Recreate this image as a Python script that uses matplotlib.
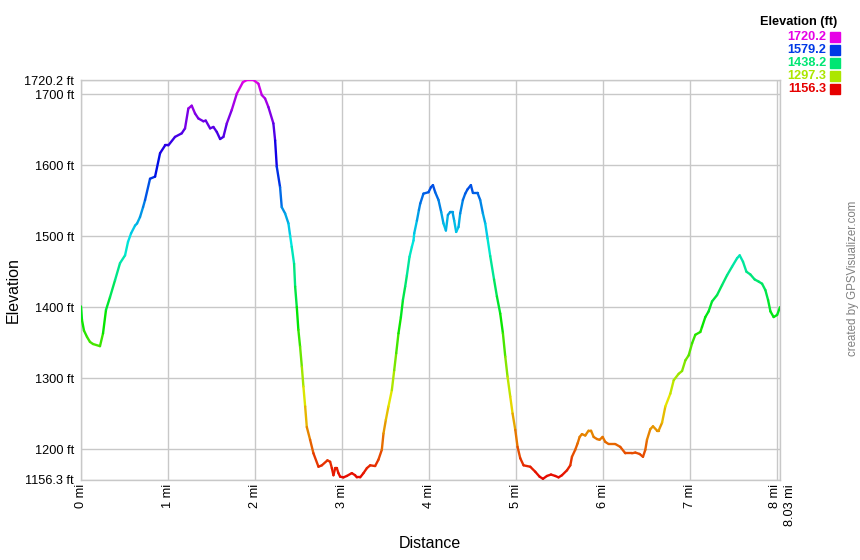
import numpy as np
import matplotlib
matplotlib.use("Agg")
import matplotlib.pyplot as plt
from matplotlib.collections import LineCollection
from matplotlib.colors import hsv_to_rgb
from matplotlib.patches import Rectangle
from matplotlib.transforms import ScaledTranslation

plt.rcParams['font.family'] = ['Liberation Sans', 'DejaVu Sans']

# track profile: distance (mi) and elevation (ft)
dist_mi = [0.00, 0.011, 0.034, 0.069, 0.103, 0.138, 0.218, 0.253, 0.287, 0.333,
           0.391, 0.448, 0.506, 0.540, 0.575, 0.621, 0.644, 0.678, 0.713, 0.736,
           0.793, 0.851, 0.908, 0.966, 1.003, 1.080, 1.157, 1.195, 1.233, 1.272,
           1.310, 1.348, 1.406, 1.433, 1.483, 1.521, 1.560, 1.598, 1.636, 1.675,
           1.732, 1.790, 1.859, 1.905, 1.980, 2.038, 2.077, 2.115, 2.153, 2.210,
           2.230, 2.249, 2.287, 2.306, 2.345, 2.383, 2.402, 2.421, 2.448, 2.460,
           2.479, 2.497, 2.517, 2.537, 2.555, 2.575, 2.594, 2.632, 2.670, 2.728,
           2.767, 2.831, 2.862, 2.882, 2.900, 2.920, 2.939, 2.957, 2.977, 3.015,
           3.054, 3.111, 3.149, 3.169, 3.207, 3.245, 3.284, 3.322, 3.379, 3.417,
           3.456, 3.475, 3.502, 3.532, 3.571, 3.598, 3.621, 3.647, 3.675, 3.698,
           3.724, 3.744, 3.774, 3.801, 3.820, 3.828, 3.859, 3.882, 3.897, 3.934,
           3.992, 4.020, 4.043, 4.069, 4.107, 4.138, 4.164, 4.192, 4.215, 4.241,
           4.268, 4.287, 4.310, 4.337, 4.356, 4.387, 4.414, 4.440, 4.479, 4.502,
           4.555, 4.586, 4.617, 4.644, 4.670, 4.701, 4.745, 4.778, 4.816, 4.847,
           4.874, 4.900, 4.931, 4.958, 4.989, 5.015, 5.046, 5.084, 5.161, 5.218,
           5.268, 5.307, 5.353, 5.399, 5.448, 5.486, 5.525, 5.583, 5.621, 5.640,
           5.678, 5.705, 5.728, 5.755, 5.793, 5.831, 5.859, 5.889, 5.928, 5.957,
           5.992, 6.023, 6.061, 6.138, 6.195, 6.253, 6.330, 6.368, 6.417, 6.456,
           6.483, 6.502, 6.540, 6.571, 6.617, 6.636, 6.675, 6.713, 6.770, 6.809,
           6.866, 6.905, 6.943, 6.981, 7.020, 7.057, 7.115, 7.134, 7.172, 7.210,
           7.249, 7.307, 7.364, 7.422, 7.479, 7.537, 7.567, 7.605, 7.644, 7.690,
           7.739, 7.785, 7.824, 7.862, 7.893, 7.920, 7.957, 7.997, 8.030]
elev_ft = [1401, 1382, 1367, 1358, 1351, 1348, 1345, 1363, 1396, 1414,
           1438, 1462, 1473, 1492, 1504, 1515, 1518, 1527, 1541, 1551,
           1581, 1584, 1617, 1628, 1628, 1640, 1645, 1652, 1680, 1684,
           1673, 1666, 1662, 1663, 1652, 1654, 1647, 1637, 1640, 1659,
           1678, 1701, 1717, 1720.2, 1720.2, 1715, 1699, 1694, 1682, 1659,
           1635, 1598, 1569, 1541, 1532, 1518, 1501, 1485, 1461, 1429,
           1400, 1368, 1344, 1316, 1288, 1260, 1231, 1213, 1194, 1175,
           1177, 1184, 1182, 1173, 1163, 1173, 1173, 1166, 1161, 1160,
           1162, 1166, 1163, 1160, 1160, 1166, 1173, 1177, 1176, 1185,
           1199, 1222, 1241, 1260, 1283, 1311, 1335, 1363, 1386, 1410,
           1429, 1445, 1471, 1485, 1494, 1504, 1522, 1537, 1546, 1560,
           1562, 1569, 1572, 1562, 1551, 1534, 1518, 1508, 1530, 1534,
           1534, 1522, 1506, 1513, 1532, 1551, 1560, 1566, 1572, 1561,
           1561, 1551, 1532, 1518, 1497, 1472, 1439, 1415, 1391, 1363,
           1330, 1302, 1274, 1250, 1227, 1203, 1187, 1177, 1175, 1168,
           1161, 1158, 1162, 1164, 1162, 1160, 1163, 1170, 1177, 1189,
           1199, 1208, 1217, 1221, 1219, 1226, 1226, 1217, 1214, 1213,
           1217, 1210, 1207, 1207, 1203, 1194, 1194, 1195, 1193, 1189,
           1199, 1213, 1228, 1232, 1226, 1226, 1237, 1260, 1278, 1297,
           1306, 1310, 1325, 1332, 1349, 1361, 1365, 1372, 1386, 1394,
           1408, 1417, 1431, 1445, 1457, 1469, 1473, 1464, 1450, 1446,
           1439, 1436, 1433, 1424, 1410, 1394, 1386, 1389, 1400]

elev_min = 1156.3
elev_max = 1720.2
total_mi = 8.03
legend_vals = [1720.2, 1579.2, 1438.2, 1297.3, 1156.3]
y_ticks = [1156.3, 1200, 1300, 1400, 1500, 1600, 1700, 1720.2]
y_labels = ["1156.3 ft", "1200 ft", "1300 ft", "1400 ft", "1500 ft",
            "1600 ft", "1700 ft", "1720.2 ft"]
x_ticks = [0, 1, 2, 3, 4, 5, 6, 7, 8, 8.03]
x_labels = ["0 mi", "1 mi", "2 mi", "3 mi", "4 mi", "5 mi", "6 mi", "7 mi",
            "8 mi", "8.03 mi"]


def elev_color(e):
    # hue runs red (low) -> magenta (high)
    h = 300.0 / 360.0 * (e - elev_min) / (elev_max - elev_min)
    return hsv_to_rgb([h, 1.0, 0.9])


fig = plt.figure(figsize=(8.6, 5.6), dpi=100)
ax = fig.add_axes([81 / 860, 80 / 560, 699 / 860, 400 / 560])

x = np.array(dist_mi)
y = np.array(elev_ft)
pts = np.column_stack([x, y]).reshape(-1, 1, 2)
segs = np.concatenate([pts[:-1], pts[1:]], axis=1)
cols = [elev_color((a + b) / 2) for a, b in zip(y[:-1], y[1:])]
lc = LineCollection(segs, colors=cols, linewidths=1.7, capstyle='round', zorder=3)
ax.add_collection(lc)

ax.set_xlim(0, total_mi)
ax.set_ylim(elev_min, elev_max)
ax.set_xticks(x_ticks)
ax.set_xticklabels(x_labels, rotation=90, va='top', ha='center')
ax.set_yticks(y_ticks)
ax.set_yticklabels(y_labels)
ax.tick_params(length=0, labelsize=9.2, colors='black')
ax.tick_params(axis='y', pad=5)
ax.tick_params(axis='x', pad=3)
ax.grid(True, color='#c8c8c8', linewidth=1.0)
for s in ax.spines.values():
    s.set_color('#c8c8c8')
    s.set_linewidth(1.0)

# end label sits just right of the "8 mi" one
end_lab = ax.get_xticklabels()[-1]
end_lab.set_transform(end_lab.get_transform() + ScaledTranslation(0.1, 0, fig.dpi_scale_trans))
lab8 = ax.get_xticklabels()[-2]
lab8.set_transform(lab8.get_transform() + ScaledTranslation(-0.02, 0, fig.dpi_scale_trans))

fig.text(13 / 860, 1 - 290 / 560, "Elevation", rotation=90, ha='center',
         va='center', fontsize=11.5)
fig.text(430 / 860, 1 - 544 / 560, "Distance", ha='center', va='center',
         fontsize=11.5)
fig.text(853 / 860, 1 - 278 / 560, "created by GPSVisualizer.com", rotation=90,
         ha='center', va='center', fontsize=8.3, color='#808080')

# colour key, top right
fig.text(837 / 860, 1 - 22 / 560, "Elevation (ft)", ha='right', va='center',
         fontsize=9.2, fontweight='bold')
for i, v in enumerate(legend_vals):
    yy = 37 + 13 * i
    c = elev_color(v)
    fig.text(826 / 860, 1 - yy / 560, "%.1f" % v, ha='right', va='center',
             fontsize=9.2, fontweight='bold', color=c)
    fig.patches.append(Rectangle((830 / 860, 1 - (yy + 5) / 560), 10 / 860, 10 / 560,
                                 transform=fig.transFigure, color=c))

fig.savefig("out.png", dpi=100)
